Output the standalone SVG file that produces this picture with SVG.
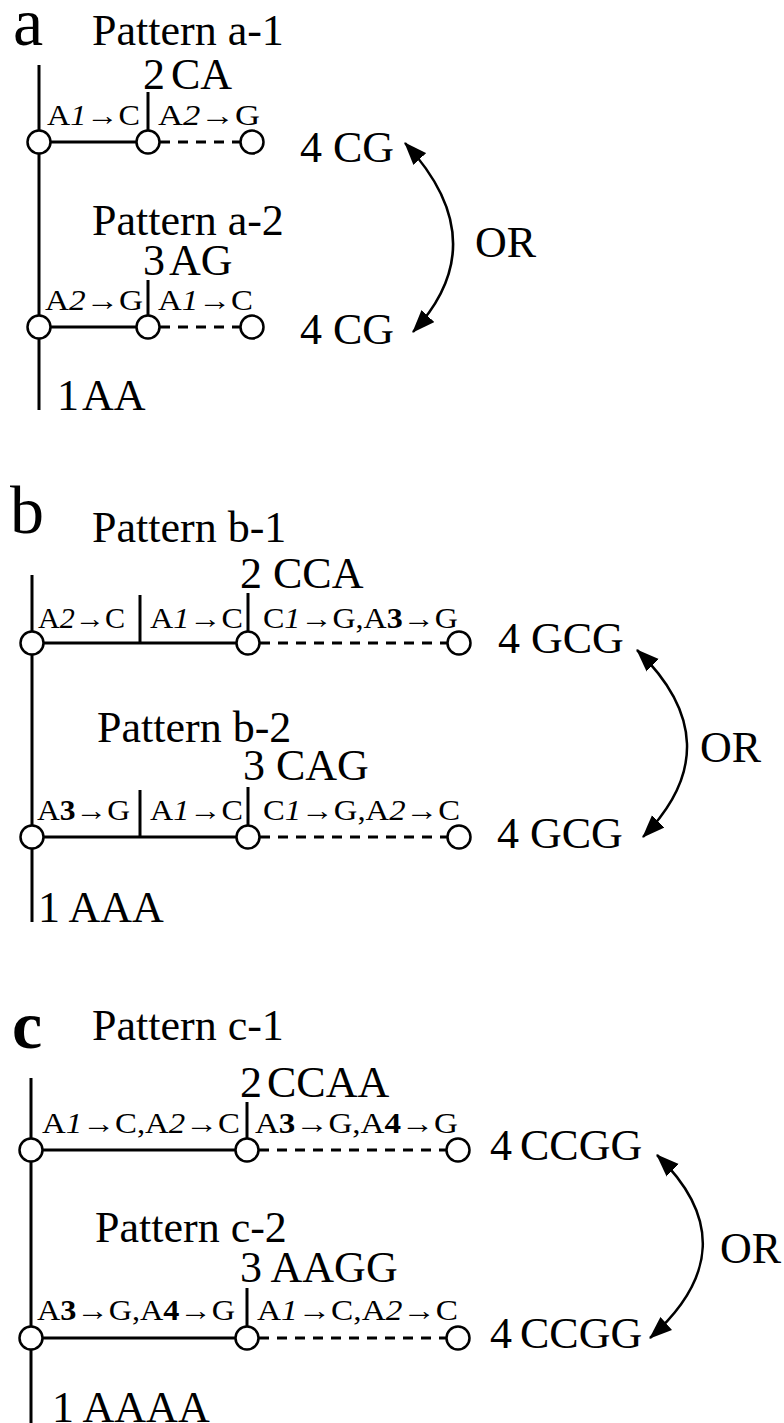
<svg xmlns="http://www.w3.org/2000/svg" width="784" height="1423" viewBox="0 0 784 1423">
<style>
text{font-family:"Liberation Serif","Times New Roman",serif;fill:#000}
.big{font-size:68px}
.h{font-size:44px}
.lb{font-size:29px}
.it{font-style:italic}
.bd{font-weight:bold}
.ln{stroke:#000;stroke-width:3;fill:none}
.ds{stroke:#000;stroke-width:3;fill:none;stroke-dasharray:10 8}
.nd{fill:#fff;stroke:#000;stroke-width:2.5}
.arc{stroke:#000;stroke-width:2.5;fill:none;marker-start:url(#ah);marker-end:url(#ah)}
</style>
<defs>
<marker id="ah" markerUnits="userSpaceOnUse" markerWidth="24" markerHeight="18" refX="20" refY="8" orient="auto-start-reverse" viewBox="0 0 22 16">
<path d="M0,0 L21,8 L0,16 Z" fill="#000"/>
</marker>
</defs>

<g id="connectors">
<!-- panel a -->
<line class="ln" x1="39" y1="65" x2="39" y2="410"/>
<line class="ln" x1="39" y1="142" x2="148" y2="142"/>
<line class="ln" x1="148" y1="92" x2="148" y2="131"/>
<line class="ds" x1="160" y1="142" x2="241" y2="142"/>
<line class="ln" x1="39" y1="327" x2="148" y2="327"/>
<line class="ln" x1="148" y1="280" x2="148" y2="316"/>
<line class="ds" x1="160" y1="327" x2="241" y2="327"/>
<path class="arc" d="M405,143 Q497,242 413,332"/>
<!-- panel b -->
<line class="ln" x1="32" y1="575" x2="32" y2="922"/>
<line class="ln" x1="32" y1="643" x2="248" y2="643"/>
<line class="ln" x1="140" y1="595" x2="140" y2="643"/>
<line class="ln" x1="248" y1="593" x2="248" y2="632"/>
<line class="ds" x1="260" y1="643" x2="448" y2="643"/>
<line class="ln" x1="32" y1="837" x2="248" y2="837"/>
<line class="ln" x1="140" y1="790" x2="140" y2="837"/>
<line class="ln" x1="248" y1="787" x2="248" y2="826"/>
<line class="ds" x1="260" y1="837" x2="448" y2="837"/>
<path class="arc" d="M637,650 Q734,744 643,837"/>
<!-- panel c -->
<line class="ln" x1="31" y1="1078" x2="31" y2="1423"/>
<line class="ln" x1="31" y1="1150" x2="247" y2="1150"/>
<line class="ln" x1="247" y1="1102" x2="247" y2="1139"/>
<line class="ds" x1="259" y1="1150" x2="447" y2="1150"/>
<line class="ln" x1="31" y1="1338" x2="247" y2="1338"/>
<line class="ln" x1="247" y1="1288" x2="247" y2="1327"/>
<line class="ds" x1="259" y1="1338" x2="447" y2="1338"/>
<path class="arc" d="M657,1155 Q752,1247 650,1338"/>
</g>

<g id="panel-a">
<text class="big" x="13" y="45">a</text>
<text class="h" x="92" y="45">Pattern a-1</text>
<text class="h" x="143" y="89">2</text><text class="h" x="171" y="89">CA</text>
<text class="lb" x="47" y="125" textLength="93" lengthAdjust="spacingAndGlyphs">A<tspan class="it">1</tspan>→C</text>
<text class="lb" x="158" y="125" textLength="102" lengthAdjust="spacingAndGlyphs">A<tspan class="it">2</tspan>→G</text>
<g id="a1-n1"><circle class="nd" cx="39" cy="142" r="11.5"/></g>
<g id="a1-n2"><circle class="nd" cx="148" cy="142" r="11.5"/></g>
<g id="a1-n3"><circle class="nd" cx="252" cy="142" r="11.5"/></g>
<text class="h" x="300" y="162">4 CG</text>
<text class="h" x="92" y="235">Pattern a-2</text>
<text class="h" x="143" y="275">3</text><text class="h" x="169" y="275">AG</text>
<text class="lb" x="45" y="310" textLength="98" lengthAdjust="spacingAndGlyphs">A<tspan class="it">2</tspan>→G</text>
<text class="lb" x="158" y="310" textLength="95" lengthAdjust="spacingAndGlyphs">A<tspan class="it">1</tspan>→C</text>
<g id="a2-n1"><circle class="nd" cx="39" cy="327" r="11.5"/></g>
<g id="a2-n2"><circle class="nd" cx="148" cy="327" r="11.5"/></g>
<g id="a2-n3"><circle class="nd" cx="252" cy="327" r="11.5"/></g>
<text class="h" x="300" y="344">4 CG</text>
<text class="h" x="475" y="257">OR</text>
<text class="h" x="57" y="410">1</text><text class="h" x="82" y="410">AA</text>
</g>

<g id="panel-b">
<text class="big" x="10" y="533">b</text>
<text class="h" x="92" y="542">Pattern b-1</text>
<text class="h" x="240" y="588">2 CCA</text>
<text class="lb" x="38" y="628" textLength="87" lengthAdjust="spacingAndGlyphs">A<tspan class="it">2</tspan>→C</text>
<text class="lb" x="150" y="628" textLength="93" lengthAdjust="spacingAndGlyphs">A<tspan class="it">1</tspan>→C</text>
<text class="lb" x="263" y="628" textLength="195" lengthAdjust="spacingAndGlyphs">C<tspan class="it">1</tspan>→G,A<tspan class="bd">3</tspan>→G</text>
<g id="b1-n1"><circle class="nd" cx="32" cy="643" r="11.5"/></g>
<g id="b1-n2"><circle class="nd" cx="248" cy="643" r="11.5"/></g>
<g id="b1-n3"><circle class="nd" cx="459" cy="643" r="11.5"/></g>
<text class="h" x="498" y="653">4 GCG</text>
<text class="h" x="97" y="742">Pattern b-2</text>
<text class="h" x="243" y="780">3 CAG</text>
<text class="lb" x="37" y="820" textLength="93" lengthAdjust="spacingAndGlyphs">A<tspan class="bd">3</tspan>→G</text>
<text class="lb" x="150" y="820" textLength="93" lengthAdjust="spacingAndGlyphs">A<tspan class="it">1</tspan>→C</text>
<text class="lb" x="263" y="820" textLength="197" lengthAdjust="spacingAndGlyphs">C<tspan class="it">1</tspan>→G,A<tspan class="it">2</tspan>→C</text>
<g id="b2-n1"><circle class="nd" cx="32" cy="837" r="11.5"/></g>
<g id="b2-n2"><circle class="nd" cx="248" cy="837" r="11.5"/></g>
<g id="b2-n3"><circle class="nd" cx="459" cy="837" r="11.5"/></g>
<text class="h" x="497" y="848">4 GCG</text>
<text class="h" x="700" y="762">OR</text>
<text class="h" x="38" y="922">1 AAA</text>
</g>

<g id="panel-c">
<text class="big bd" x="12" y="1048">c</text>
<text class="h" x="92" y="1040">Pattern c-1</text>
<text class="h" x="240" y="1097">2</text><text class="h" x="267" y="1097">CCAA</text>
<text class="lb" x="42" y="1133" textLength="198" lengthAdjust="spacingAndGlyphs">A<tspan class="it">1</tspan>→C,A<tspan class="it">2</tspan>→C</text>
<text class="lb" x="255" y="1133" textLength="203" lengthAdjust="spacingAndGlyphs">A<tspan class="bd">3</tspan>→G,A<tspan class="bd">4</tspan>→G</text>
<g id="c1-n1"><circle class="nd" cx="31" cy="1150" r="11.5"/></g>
<g id="c1-n2"><circle class="nd" cx="247" cy="1150" r="11.5"/></g>
<g id="c1-n3"><circle class="nd" cx="458" cy="1150" r="11.5"/></g>
<text class="h" x="490" y="1160">4</text><text class="h" x="520" y="1160">CCGG</text>
<text class="h" x="95" y="1242">Pattern c-2</text>
<text class="h" x="240" y="1282">3 AAGG</text>
<text class="lb" x="37" y="1320" textLength="198" lengthAdjust="spacingAndGlyphs">A<tspan class="bd">3</tspan>→G,A<tspan class="bd">4</tspan>→G</text>
<text class="lb" x="257" y="1320" textLength="201" lengthAdjust="spacingAndGlyphs">A<tspan class="it">1</tspan>→C,A<tspan class="it">2</tspan>→C</text>
<g id="c2-n1"><circle class="nd" cx="31" cy="1338" r="11.5"/></g>
<g id="c2-n2"><circle class="nd" cx="247" cy="1338" r="11.5"/></g>
<g id="c2-n3"><circle class="nd" cx="458" cy="1338" r="11.5"/></g>
<text class="h" x="490" y="1348">4</text><text class="h" x="520" y="1348">CCGG</text>
<text class="h" x="720" y="1263">OR</text>
<text class="h" x="52" y="1422">1 AAAA</text>
</g>
</svg>
